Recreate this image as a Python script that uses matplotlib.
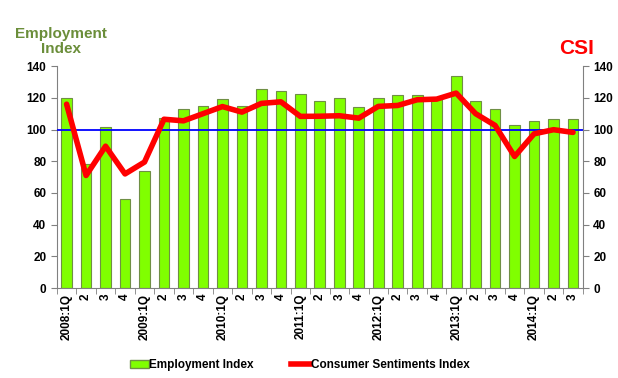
import numpy as np
import matplotlib.pyplot as plt
from matplotlib.patches import Patch
from matplotlib.lines import Line2D

plt.rcParams["font.family"] = ["Liberation Sans", "DejaVu Sans"]
plt.rcParams["font.weight"] = "bold"

quarters = ["2008:1Q", "2", "3", "4", "2009:1Q", "2", "3", "4",
            "2010:1Q", "2", "3", "4", "2011:1Q", "2", "3", "4",
            "2012:1Q", "2", "3", "4", "2013:1Q", "2", "3", "4",
            "2014:1Q", "2", "3"]
employment = [120, 78, 101.5, 56, 74, 107, 113, 115, 119, 115, 125.7, 124.2,
              122.3, 118.3, 119.8, 114.4, 120.2, 121.7, 121.9, 119.5, 133.7,
              118.2, 112.9, 102.6, 105.1, 106.4, 106.4]
csi = [116, 71, 89.5, 72, 79.5, 106.5, 105.5, 110, 114.5, 111, 116.5, 117.5,
       108.3, 108.4, 108.7, 107.2, 114.6, 115.2, 118.8, 119.2, 123, 110,
       102.6, 83, 97.3, 99.9, 98.2]
baseline = 100

x = np.arange(len(quarters))

fig = plt.figure(figsize=(6.18, 3.78), dpi=100)
ax = fig.add_axes([0.092, 0.238, 0.851, 0.587])
ax.bar(x, employment, width=0.55, color="#80ff00", edgecolor="#6f8f45",
       linewidth=0.8, zorder=2)
ax.axhline(baseline, color="#0000ff", linewidth=1.3, zorder=3)
ax.plot(x, csi, color="#ff0000", linewidth=4, solid_capstyle="round",
        solid_joinstyle="round", zorder=4)

ax.set_xlim(-0.5, len(quarters) - 0.5)
ax.set_ylim(0, 140)
ax.set_yticks(range(0, 141, 20))
ax.set_xticks(x)
ax.set_xticklabels(quarters, rotation=90, fontsize=8.5, fontweight="bold")
ax.tick_params(axis="x", length=0, pad=4)
ax.set_xticks(np.arange(-0.5, len(quarters), 1), minor=True)
ax.tick_params(axis="x", which="minor", length=4, color="#808080",
               direction="out")
ax.tick_params(axis="y", labelsize=8.5, length=4, color="#808080")
for lbl in ax.get_yticklabels():
    lbl.set_fontweight("bold")

for side in ["top", "right"]:
    ax.spines[side].set_visible(False)
for side in ["left", "bottom"]:
    ax.spines[side].set_color("#808080")

ax2 = ax.twinx()
ax2.set_ylim(0, 140)
ax2.set_yticks(range(0, 141, 20))
ax2.tick_params(axis="y", labelsize=8.5, length=4, color="#808080")
for lbl in ax2.get_yticklabels():
    lbl.set_fontweight("bold")
for side in ["top", "left", "bottom"]:
    ax2.spines[side].set_visible(False)
ax2.spines["right"].set_color("#808080")

fig.text(0.099, 0.89, "Employment\nIndex", color="#6b8e3a", fontsize=11,
         fontweight="bold", ha="center", va="center", linespacing=1.05)
fig.text(0.933, 0.873, "CSI", color="#ff0000", fontsize=15,
         fontweight="bold", ha="center", va="center")

handles = [Patch(facecolor="#80ff00", edgecolor="#6f8f45"),
           Line2D([0], [0], color="#ff0000", linewidth=4)]
fig.legend(handles, ["Employment Index", "Consumer Sentiments Index"],
           loc="center", bbox_to_anchor=(0.485, 0.035), ncol=2, frameon=False,
           fontsize=8.5, handlelength=1.6, handletextpad=0.05,
           columnspacing=3.2)

fig.savefig("out.png", dpi=100)
